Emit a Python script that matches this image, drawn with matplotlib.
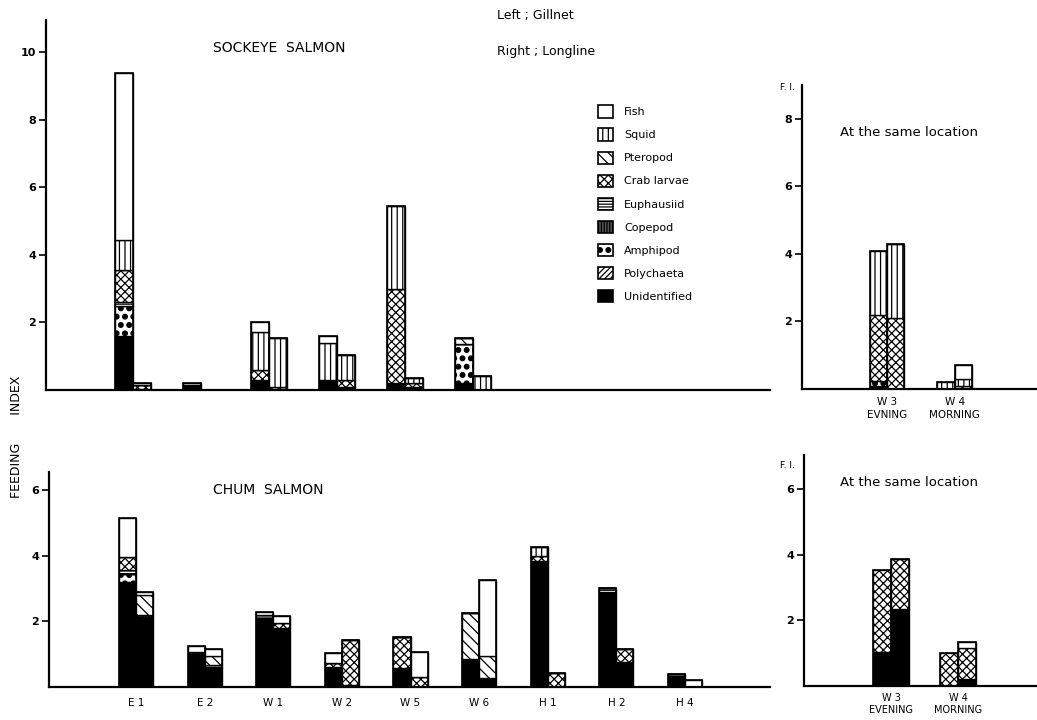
import matplotlib
matplotlib.use("Agg")
import matplotlib.pyplot as plt
import matplotlib.hatch as mhatch
import numpy as np
from matplotlib.patches import Patch


# Filled large dots used for the amphipod pattern (replaces the open 'O' circles)
class BigDots(mhatch.Circles):
    size = 0.28
    filled = True

    def __init__(self, hatch, density):
        self.num_rows = hatch.count('O') * density
        super().__init__(hatch, density)


mhatch._hatch_types = [BigDots if t is mhatch.LargeCircles else t
                       for t in mhatch._hatch_types]

plt.rcParams['font.family'] = ['DejaVu Sans']
plt.rcParams['hatch.linewidth'] = 0.9

# ---------------------------------------------------------------- data
prey = ["Fish", "Squid", "Pteropod", "Crab larvae", "Euphausiid",
        "Copepod", "Amphipod", "Polychaeta", "Unidentified"]
stack_order = prey[::-1]

sockeye_stations = ["E 1", "E 2", "W 1", "W 2", "W 5", "W 6"]
sockeye_gillnet = {
    "Unidentified": [1.6, 0.15, 0.3, 0.3, 0.2, 0.2],
    "Polychaeta":   [0, 0, 0, 0, 0, 0],
    "Amphipod":     [0.9, 0, 0, 0, 0, 1.15],
    "Copepod":      [0, 0, 0, 0, 0, 0],
    "Euphausiid":   [0.1, 0, 0, 0, 0, 0],
    "Crab larvae":  [0.95, 0, 0.3, 0, 2.8, 0],
    "Pteropod":     [0, 0, 0, 0, 0, 0.2],
    "Squid":        [0.9, 0, 1.12, 1.1, 2.45, 0],
    "Fish":         [4.95, 0.07, 0.28, 0.2, 0, 0],
}
sockeye_longline = {
    "Unidentified": [0.04, 0, 0, 0.1, 0.08, 0],
    "Polychaeta":   [0, 0, 0, 0, 0, 0],
    "Amphipod":     [0, 0, 0, 0, 0, 0],
    "Copepod":      [0, 0, 0, 0, 0, 0],
    "Euphausiid":   [0, 0, 0, 0, 0, 0],
    "Crab larvae":  [0.1, 0, 0.1, 0.2, 0.12, 0],
    "Pteropod":     [0, 0, 0, 0, 0, 0],
    "Squid":        [0, 0, 1.45, 0.75, 0.15, 0.42],
    "Fish":         [0.08, 0, 0, 0, 0, 0],
}

sockeye_same_stations = ["W 3\nEVNING", "W 4\nMORNING"]
sockeye_same_gillnet = {
    "Unidentified": [0.1, 0],
    "Amphipod":     [0.15, 0],
    "Crab larvae":  [1.95, 0],
    "Squid":        [1.9, 0.22],
}
sockeye_same_longline = {
    "Crab larvae":  [2.1, 0.1],
    "Squid":        [2.2, 0.2],
    "Fish":         [0, 0.42],
}

chum_stations = ["E 1", "E 2", "W 1", "W 2", "W 5", "W 6", "H 1", "H 2", "H 4"]
chum_gillnet = {
    "Unidentified": [3.2, 1.0, 2.1, 0.6, 0.58, 0.83, 3.85, 2.9, 0.3],
    "Amphipod":     [0.25, 0, 0, 0, 0, 0, 0, 0, 0],
    "Copepod":      [0, 0.04, 0, 0, 0, 0, 0, 0, 0],
    "Euphausiid":   [0.1, 0, 0.1, 0, 0, 0, 0, 0.1, 0.08],
    "Crab larvae":  [0.4, 0, 0, 0.12, 0.94, 0, 0.15, 0, 0],
    "Pteropod":     [0, 0, 0, 0, 0, 1.41, 0, 0, 0],
    "Squid":        [0, 0, 0, 0, 0, 0, 0.28, 0, 0],
    "Fish":         [1.2, 0.2, 0.07, 0.3, 0, 0, 0, 0, 0],
}
chum_longline = {
    "Unidentified": [2.13, 0.6, 1.8, 0.05, 0, 0.25, 0, 0.76, 0],
    "Copepod":      [0.07, 0, 0, 0, 0, 0, 0, 0, 0],
    "Euphausiid":   [0, 0.07, 0, 0, 0, 0, 0, 0, 0],
    "Crab larvae":  [0, 0, 0.15, 1.37, 0.3, 0, 0.42, 0.38, 0],
    "Pteropod":     [0.6, 0.25, 0, 0, 0, 0.68, 0, 0, 0],
    "Fish":         [0.08, 0.22, 0.22, 0, 0.75, 2.33, 0, 0, 0.2],
}

chum_same_stations = ["W 3\nEVENING", "W 4\nMORNING"]
chum_same_gillnet = {
    "Unidentified": [1.03, 0],
    "Crab larvae":  [2.52, 1.02],
}
chum_same_longline = {
    "Unidentified": [2.35, 0.22],
    "Crab larvae":  [1.53, 0.93],
    "Fish":         [0, 0.18],
}

# ---------------------------------------------------------------- styles
styles = {
    "Fish":         dict(facecolor="white", hatch=None),
    "Squid":        dict(facecolor="white", hatch="|||"),
    "Pteropod":     dict(facecolor="white", hatch="\\\\\\"),
    "Crab larvae":  dict(facecolor="white", hatch="xxxx"),
    "Euphausiid":   dict(facecolor="white", hatch="------"),
    "Copepod":      dict(facecolor="#555555", hatch="||||||"),
    "Amphipod":     dict(facecolor="white", hatch="OO"),
    "Polychaeta":   dict(facecolor="white", hatch="//////"),
    "Unidentified": dict(facecolor="black", hatch=None),
}

W, H = 1037, 720
fig = plt.figure(figsize=(W / 100, H / 100), dpi=100)


def px_axes(x0, y_top, x1, y_base):
    return fig.add_axes([x0 / W, 1 - y_base / H, (x1 - x0) / W, (y_base - y_top) / H])


def stacked(ax, xs, data, offset, width):
    bottom = np.zeros(len(xs))
    for name in stack_order:
        if name not in data:
            continue
        vals = np.asarray(data[name], dtype=float)
        st = styles[name]
        ax.bar(xs + offset, vals, width, bottom=bottom, align="edge",
               facecolor=st["facecolor"], hatch=st["hatch"],
               edgecolor="black", linewidth=1.0)
        bottom += vals
    # outline of the whole bar
    ax.bar(xs + offset, bottom, width, align="edge", facecolor="none",
           edgecolor="black", linewidth=1.2)


def style_axes(ax, ymax, yticks, xlim, labels, xfont=7.5, xpad=8, lsp=1.3):
    ax.set_ylim(0, ymax)
    ax.set_xlim(*xlim)
    for s in ("top", "right"):
        ax.spines[s].set_visible(False)
    ax.spines["left"].set_linewidth(1.6)
    ax.spines["bottom"].set_linewidth(1.6)
    ax.set_yticks(yticks)
    ax.set_yticklabels([str(t) for t in yticks], fontsize=8, fontweight="bold")
    ax.tick_params(axis="y", length=5, width=1.2, pad=2, direction="out")
    ax.set_xticks(np.arange(len(labels)))
    ax.set_xticklabels(labels, fontsize=xfont, linespacing=lsp)
    ax.tick_params(axis="x", length=0, pad=xpad)
    ax.patch.set_alpha(0)


# Sockeye, all stations
ax1 = px_axes(46, 20, 770, 390)
xs = np.arange(len(sockeye_stations), dtype=float)
bw = 0.265
stacked(ax1, xs, sockeye_gillnet, -bw, bw)
stacked(ax1, xs, sockeye_longline, 0, bw)
style_axes(ax1, 10.96, [2, 4, 6, 8, 10], (-1.28, 9.37), sockeye_stations)
ax1.set_xticks(xs - 0.05)

# Sockeye, same location
ax2 = px_axes(802, 85, 1037, 389)
xs2 = np.arange(2, dtype=float)
bw2 = 0.255
stacked(ax2, xs2, sockeye_same_gillnet, -bw2, bw2)
stacked(ax2, xs2, sockeye_same_longline, 0, bw2)
style_axes(ax2, 9.0, [2, 4, 6, 8], (-1.25, 2.21), sockeye_same_stations,
           xfont=7.5, xpad=6, lsp=1.35)

# Chum, all stations
ax3 = px_axes(49, 472, 770, 686.5)
xs3 = np.arange(len(chum_stations), dtype=float)
bw3 = 0.25
stacked(ax3, xs3, chum_gillnet, -bw3, bw3)
stacked(ax3, xs3, chum_longline, 0, bw3)
style_axes(ax3, 6.56, [2, 4, 6], (-1.27, 9.24), chum_stations)

# Chum, same location
ax4 = px_axes(804, 455, 1037, 686)
bw4 = 0.27
stacked(ax4, xs2, chum_same_gillnet, -bw4, bw4)
stacked(ax4, xs2, chum_same_longline, 0, bw4)
style_axes(ax4, 7.04, [2, 4, 6], (-1.3, 2.18), chum_same_stations,
           xfont=7, xpad=5, lsp=1.3)


def ptext(x, y, s, **kw):
    fig.text(x / W, 1 - y / H, s, **kw)


ptext(213, 48, "SOCKEYE  SALMON", fontsize=10, va="center", ha="left")
ptext(213, 490, "CHUM  SALMON", fontsize=10, va="center", ha="left")
ptext(497, 16, "Left ; Gillnet", fontsize=9, va="center", ha="left")
ptext(497, 52, "Right ; Longline", fontsize=9, va="center", ha="left")
ptext(840, 132, "At the same location", fontsize=9.5, va="center", ha="left")
ptext(840, 483, "At the same location", fontsize=9.5, va="center", ha="left")
ptext(780, 88, "F. I.", fontsize=6.5, va="center", ha="left")
ptext(780, 465, "F. I.", fontsize=6.5, va="center", ha="left")
ptext(17, 437, "FEEDING       INDEX", fontsize=9, rotation=90,
      va="center", ha="center")

# Legend for the prey categories
handles = [Patch(facecolor=styles[p]["facecolor"], hatch=styles[p]["hatch"],
                 edgecolor="black", linewidth=1.2) for p in prey]
fig.legend(handles, prey, loc="upper left",
           bbox_to_anchor=(594 / W, 1 - 101 / H), frameon=False,
           fontsize=8, handlelength=1.35, handleheight=1.35,
           labelspacing=0.95, handletextpad=0.95, borderaxespad=0)

fig.savefig("out.png", dpi=100)
